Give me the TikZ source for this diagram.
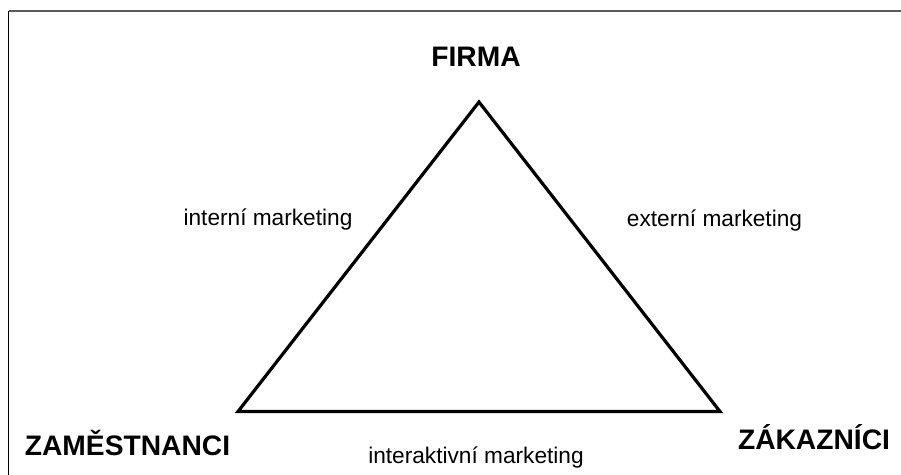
\documentclass[tikz,border=0pt]{standalone}
\usepackage{fontspec}
\setmainfont{Liberation Sans}
\begin{document}
\begin{tikzpicture}[x=0.75pt,y=-0.75pt,
  vertexlabel/.style={inner sep=0pt,anchor=base,font=\fontsize{21.15}{25}\selectfont\bfseries},
  edgelabel/.style={inner sep=0pt,anchor=base,font=\fontsize{17}{20}\selectfont},
  edge/.style={line width=2.4pt,line join=miter}]
\useasboundingbox (0,0) rectangle (901,475);
% frame
\coordinate (ftl) at (8.5,10.5);
\coordinate (ftr) at (901,10.5);
\coordinate (fbl) at (8.5,475);
\draw[line width=1.5pt,black!65] (ftl) -- (ftr);
\draw[line width=0.9pt,black] (ftl) -- (fbl);
% triangle vertices
\coordinate (F) at (479,102);
\coordinate (Z) at (238,411.5);
\coordinate (K) at (720,411.5);
\draw[edge] (F) -- (Z) -- (K) -- cycle;
% labels
\node[vertexlabel] (firma) at (476,66) {FIRMA};
\node[vertexlabel] (zam) at (127.5,455) {ZAMĚSTNANCI};
\node[vertexlabel] (zak) at (814,449) {ZÁKAZNÍCI};
\node[edgelabel] (int) at (268,225) {interní marketing};
\node[edgelabel] (ext) at (714.5,226) {externí marketing};
\node[edgelabel] (inter) at (476,463) {interaktivní marketing};
\end{tikzpicture}
\end{document}
